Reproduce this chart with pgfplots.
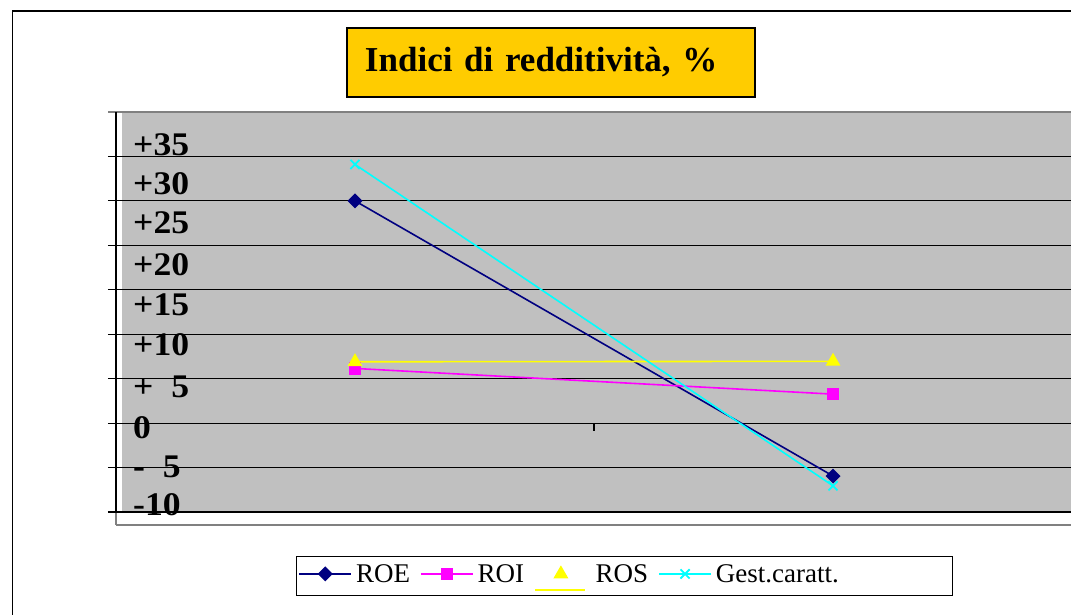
\documentclass[border=0pt]{standalone}
\usepackage{pgfplots}
\pgfplotsset{compat=1.18}
\usepackage{fontspec}
\setmainfont{Liberation Serif}
\newfontfamily\stretchfont[FakeStretch=1.08]{Liberation Serif}
\definecolor{wall}{HTML}{C0C0C0}
\definecolor{titlegold}{HTML}{FFCC00}
\definecolor{roe}{HTML}{000080}
\definecolor{roi}{HTML}{FF00FF}
\definecolor{ros}{HTML}{FFFF00}
\definecolor{gest}{HTML}{00FFFF}
\definecolor{bord}{HTML}{808080}

\begin{document}
\begin{tikzpicture}
\useasboundingbox (0pt,0pt) rectangle (1071pt,-615pt);
\clip (0pt,0pt) rectangle (1071pt,-615pt);
\draw[line width=1.5pt] (12.5pt,-640pt) -- (12.5pt,-11pt) -- (1090pt,-11pt);
\fill[wall] (122pt,-112pt) rectangle (1090pt,-512pt);
\draw[bord, line width=1.2pt] (116pt,-525pt) -- (1090pt,-525pt);
\draw[bord, line width=1.2pt] (108pt,-112pt) -- (1090pt,-112pt);
\draw[bord, line width=1.2pt] (116pt,-112pt) -- (116pt,-525pt);
\begin{axis}[
  at={(116pt,-512pt)}, anchor=south west,
  scale only axis, width=956pt, height=400pt,
  xmin=0, xmax=2, ymin=-10, ymax=35,
  axis line style={draw=none},
  clip=false,
  xtick=\empty,
  ytick={-10,-5,0,5,10,15,20,25,30},
  yticklabels={},
  tick align=outside,
  major tick length=8pt,
  ytick style={black, line width=1.1pt},
  ymajorgrids,
  major grid style={black, line width=1.1pt},
  extra y ticks={31.3,26.9,22.5,17.8,13.3,8.8,4.1,-0.5,-4.9,-9.2},
  extra y tick labels={+35,+30,+25,+20,+15,+10,{+\phantom{3}5},0,{-\phantom{0}5},-10},
  extra y tick style={grid=none, tick style={draw=none},
    yticklabel style={anchor=west, inner sep=0pt, xshift=25pt,
      font=\stretchfont\bfseries\fontsize{33}{33}\selectfont}},
  title={Indici di redditività, \%},
  title style={at={(axis description cs:0.455,1.109)}, anchor=center, yshift=0pt,
    fill=titlegold, draw=black, line width=1.2pt, text width=372pt,
    inner xsep=18pt, minimum height=69pt, align=left,
    font=\bfseries\fontsize{35}{40}\selectfont},
  legend style={at={(axis description cs:0.1883,-0.16)}, anchor=west,
    draw=black, line width=0.8pt, inner ysep=4.5pt, inner xsep=2pt,
    font=\fontsize{27}{30}\selectfont,
    nodes={inner xsep=2pt, inner ysep=3pt},
    /tikz/every odd column/.append style={column sep=2pt},
    /tikz/every even column/.append style={column sep=8pt}},
  legend columns=4,
  legend image code/.code={\draw[mark repeat=2,mark phase=2] plot coordinates {(0pt,0pt) (26pt,0pt) (52pt,0pt)};},
]
\addplot[roe, line width=1.6pt, mark=square*, mark size=4.5pt, mark options={rotate=45, solid}]
  coordinates {(0.5,25.0) (1.5,-5.95)};
\addlegendentry{ROE}
\addplot[roi, line width=1.6pt, mark=square*, mark size=5.5pt]
  coordinates {(0.5,6.15) (1.5,3.26)};
\addlegendentry{ROI}
\addplot[ros, line width=1.6pt, mark=triangle*, mark size=7pt,
  legend image code/.code={\draw (0pt,-16pt) -- (50pt,-16pt); \path plot coordinates {(26pt,0pt)};}]
  coordinates {(0.5,6.9) (1.5,6.95)};
\addlegendentry{\hspace*{6pt}ROS}
\addplot[gest, line width=1.6pt, mark=x, mark size=6.5pt, mark options={line width=1.8pt}]
  coordinates {(0.5,29.1) (1.5,-7.05)};
\addlegendentry{Gest.caratt.\kern110pt}
\draw[black, line width=1.2pt] (axis cs:0,-10) -- (axis cs:0,35);
\draw[black, line width=1.2pt] (axis cs:1,0) -- ++(0pt,-8pt);
\end{axis}
\end{tikzpicture}
\end{document}
